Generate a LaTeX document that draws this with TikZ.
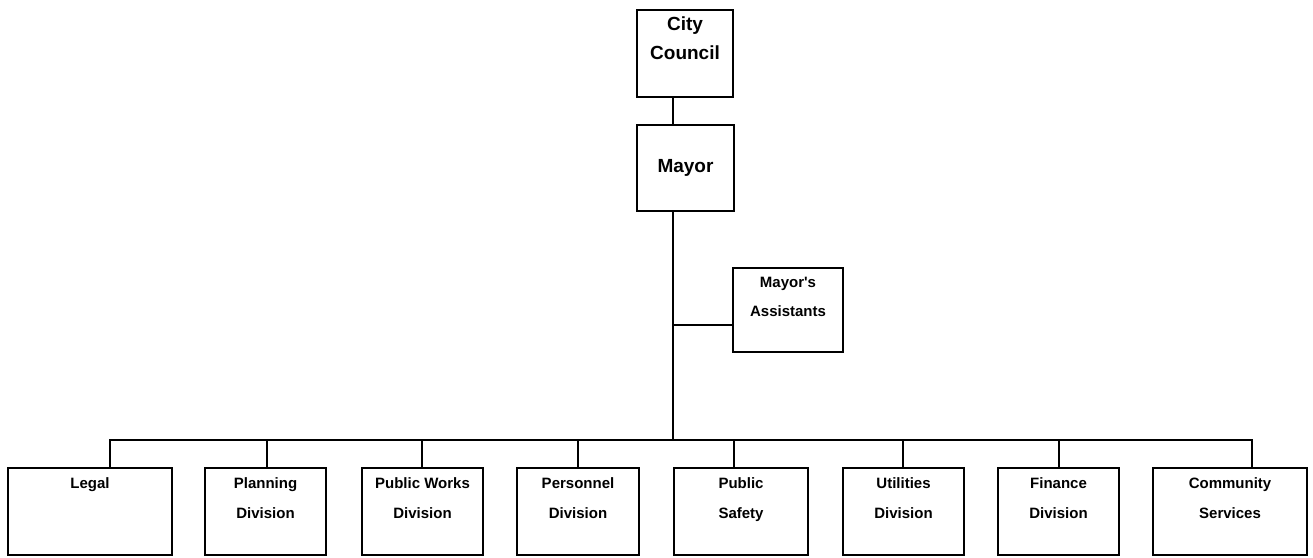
\documentclass[tikz,border=0pt]{standalone}
\usepackage{fontspec}
\setmainfont{Liberation Sans}
\usetikzlibrary{calc}

\tikzset{
  box/.style={draw, line width=2.8pt, minimum height=87pt, inner sep=0pt},
  toptext/.style={font=\bfseries\fontsize{19}{29}\selectfont, align=center},
  divtext/.style={font=\bfseries\fontsize{15}{30}\selectfont, align=center, anchor=north, inner sep=11pt},
  conn/.style={line width=2.8pt}
}

\begin{document}
\begin{tikzpicture}[x=1pt,y=-1pt]
    \useasboundingbox (0,0) rectangle (1313,557);

%   top of the chart
    \node[box, minimum width=96pt] (council) at (685,53.5) {};
    \node[toptext, anchor=north, inner sep=8pt] (councilt) at (council.north) {City\\Council};
    \node[box, minimum width=97pt, minimum height=86pt] (mayor) at (685.5,168) {};
    \node[toptext] (mayort) at (mayor.center) {Mayor};
    \node[box, minimum width=110pt, minimum height=84pt] (assist) at (788,310) {};
    \node[divtext, inner sep=10pt, font=\bfseries\fontsize{15}{29}\selectfont] (assistt) at (assist.north) {Mayor\textquotesingle s\\Assistants};

%   divisions
    \node[box, minimum width=164pt] (legal) at (90,511.5) {};
    \node[box, minimum width=121pt] (planning) at (265.5,511.5) {};
    \node[box, minimum width=121pt] (pubworks) at (422.5,511.5) {};
    \node[box, minimum width=122pt] (personnel) at (578,511.5) {};
    \node[box, minimum width=134pt] (safety) at (741,511.5) {};
    \node[box, minimum width=121pt] (utilities) at (903.5,511.5) {};
    \node[box, minimum width=121pt] (finance) at (1058.5,511.5) {};
    \node[box, minimum width=154pt] (community) at (1230,511.5) {};

    \node[divtext] (legalt) at (legal.north) {Legal};
    \node[divtext] (planningt) at (planning.north) {Planning\\Division};
    \node[divtext] (pubworkst) at (pubworks.north) {Public Works\\Division};
    \node[divtext] (personnelt) at (personnel.north) {Personnel\\Division};
    \node[divtext] (safetyt) at (safety.north) {Public\\Safety};
    \node[divtext] (utilitiest) at (utilities.north) {Utilities\\Division};
    \node[divtext] (financet) at (finance.north) {Finance\\Division};
    \node[divtext] (communityt) at (community.north) {Community\\Services};

%   trunk and bus
    \coordinate (trunk) at (673,0);
    \coordinate (tap) at (673,325);
    \coordinate (legal-tap) at (110,440);
    \coordinate (planning-tap) at (267,440);
    \coordinate (pubworks-tap) at (422,440);
    \coordinate (personnel-tap) at (578,440);
    \coordinate (safety-tap) at (734,440);
    \coordinate (utilities-tap) at (903,440);
    \coordinate (finance-tap) at (1059,440);
    \coordinate (community-tap) at (1252,440);

    \draw[conn] (council.south -| trunk) -- (mayor.north -| trunk);
    \draw[conn] (mayor.south -| trunk) -- (trunk |- legal-tap);
    \draw[conn] (tap) -- (tap -| assist.west);
    \draw[conn, line cap=rect] (legal-tap) -- (community-tap);

    \draw[conn] (legal-tap) -- (legal-tap |- legal.north);
    \draw[conn] (planning-tap) -- (planning-tap |- planning.north);
    \draw[conn] (pubworks-tap) -- (pubworks-tap |- pubworks.north);
    \draw[conn] (personnel-tap) -- (personnel-tap |- personnel.north);
    \draw[conn] (safety-tap) -- (safety-tap |- safety.north);
    \draw[conn] (utilities-tap) -- (utilities-tap |- utilities.north);
    \draw[conn] (finance-tap) -- (finance-tap |- finance.north);
    \draw[conn] (community-tap) -- (community-tap |- community.north);
\end{tikzpicture}
\end{document}
